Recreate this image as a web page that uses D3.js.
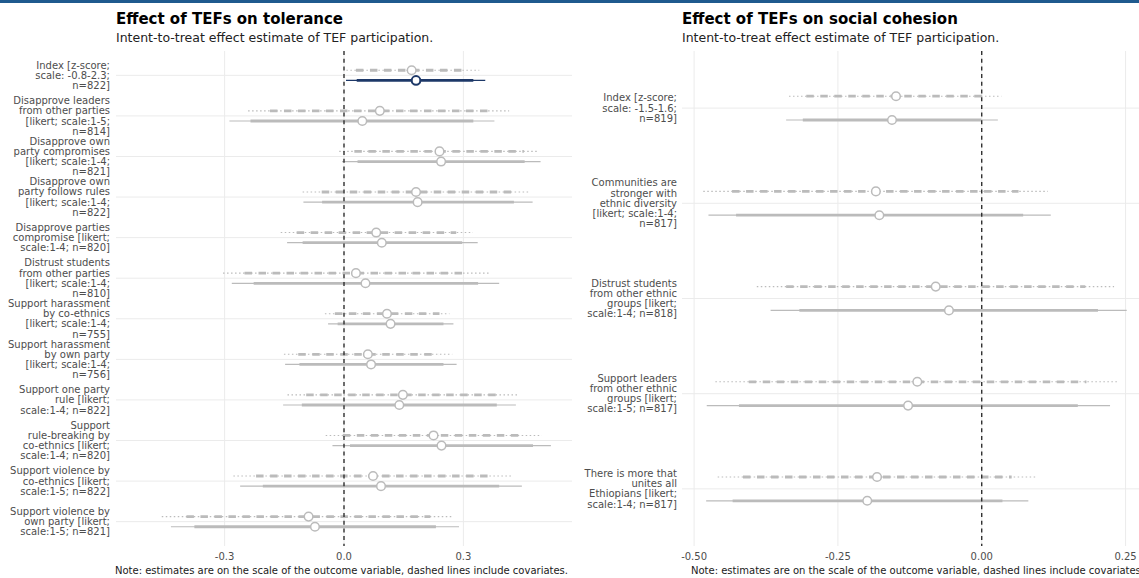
<!DOCTYPE html>
<html>
<head>
<meta charset="utf-8">
<script src="https://cdn.jsdelivr.net/npm/d3@7"></script>
<style>
  html, body { margin: 0; padding: 0; background: #fff; }
  svg { display: block; font-family: "DejaVu Sans", sans-serif; }
</style>
</head>
<body>
<svg id="chart" width="1139" height="578"></svg>
<script>
// ---- Tolerance outcomes ----
const tolCategories = [
  "Index [z-score;\nscale: -0.8-2.3;\nn=822]",
  "Disapprove leaders\nfrom other parties\n[likert; scale:1-5;\nn=814]",
  "Disapprove own\nparty compromises\n[likert; scale:1-4;\nn=821]",
  "Disapprove own\nparty follows rules\n[likert; scale:1-4;\nn=822]",
  "Disapprove parties\ncompromise [likert;\nscale:1-4; n=820]",
  "Distrust students\nfrom other parties\n[likert; scale:1-4;\nn=810]",
  "Support harassment\nby co-ethnics\n[likert; scale:1-4;\nn=755]",
  "Support harassment\nby own party\n[likert; scale:1-4;\nn=756]",
  "Support one party\nrule [likert;\nscale:1-4; n=822]",
  "Support\nrule-breaking by\nco-ethnics [likert;\nscale:1-4; n=820]",
  "Support violence by\nco-ethnics [likert;\nscale:1-5; n=822]",
  "Support violence by\nown party [likert;\nscale:1-5; n=821]"
];
// estimates without covariates (solid lines)
const tolEst     = [0.181, 0.046, 0.244, 0.185, 0.095, 0.054, 0.117, 0.068, 0.139, 0.245, 0.093, -0.073];
const tolLo95    = [0.005, -0.288, -0.005, -0.102, -0.143, -0.282, -0.040, -0.148, -0.153, -0.029, -0.261, -0.435];
const tolHi95    = [0.355, 0.378, 0.494, 0.474, 0.336, 0.390, 0.275, 0.283, 0.432, 0.520, 0.447, 0.289];
const tolLo90    = [0.032, -0.235, 0.034, -0.055, -0.104, -0.227, -0.016, -0.112, -0.106, 0.015, -0.204, -0.376];
const tolHi90    = [0.325, 0.325, 0.454, 0.427, 0.297, 0.337, 0.250, 0.250, 0.384, 0.475, 0.390, 0.231];
// estimates with covariates (dashed lines)
const tolEstCov  = [0.170, 0.090, 0.240, 0.181, 0.081, 0.030, 0.108, 0.060, 0.148, 0.225, 0.073, -0.089];
const tolLo95Cov = [0.006, -0.241, -0.012, -0.104, -0.159, -0.304, -0.048, -0.151, -0.142, -0.046, -0.278, -0.458];
const tolHi95Cov = [0.340, 0.415, 0.487, 0.468, 0.324, 0.365, 0.265, 0.272, 0.441, 0.497, 0.424, 0.275];
const tolLo90Cov = [0.030, -0.186, 0.026, -0.056, -0.119, -0.250, -0.023, -0.115, -0.095, -0.003, -0.221, -0.396];
const tolHi90Cov = [0.310, 0.367, 0.452, 0.420, 0.282, 0.312, 0.240, 0.237, 0.392, 0.452, 0.366, 0.217];
const tolTicks   = [-0.3, 0.0, 0.3];

// ---- Social cohesion outcomes ----
const cohCategories = [
  "Index [z-score;\nscale: -1.5-1.6;\nn=819]",
  "Communities are\nstronger with\nethnic diversity\n[likert; scale:1-4;\nn=817]",
  "Distrust students\nfrom other ethnic\ngroups [likert;\nscale:1-4; n=818]",
  "Support leaders\nfrom other ethnic\ngroups [likert;\nscale:1-5; n=817]",
  "There is more that\nunites all\nEthiopians [likert;\nscale:1-4; n=817]"
];
const cohEst     = [-0.156, -0.178, -0.057, -0.128, -0.199];
const cohLo95    = [-0.340, -0.475, -0.367, -0.478, -0.479];
const cohHi95    = [0.028, 0.120, 0.252, 0.223, 0.081];
const cohLo90    = [-0.311, -0.427, -0.317, -0.422, -0.433];
const cohHi90    = [-0.001, 0.072, 0.202, 0.167, 0.036];
const cohEstCov  = [-0.149, -0.184, -0.080, -0.112, -0.182];
const cohLo95Cov = [-0.335, -0.484, -0.391, -0.463, -0.459];
const cohHi95Cov = [0.034, 0.115, 0.230, 0.239, 0.096];
const cohLo90Cov = [-0.305, -0.434, -0.340, -0.405, -0.415];
const cohHi90Cov = [0.005, 0.064, 0.180, 0.182, 0.052];
const cohTicks   = [-0.50, -0.25, 0.00, 0.25];

const subtitleText = "Intent-to-treat effect estimate of TEF participation.";
const noteText = "Note: estimates are on the scale of the outcome variable, dashed lines include covariates.";

const GREY = "#bbbbbb";
const NAVY = "#1d3868";

// tick labels use a plain hyphen for negatives
const locale = d3.formatLocale({ decimal: ".", thousands: ",", grouping: [3], currency: ["", ""], minus: "-" });

const svg = d3.select("#chart");

// header rule
svg.append("rect").attr("x", 0).attr("y", 0).attr("width", 1139).attr("height", 3).attr("fill", "#1f5a8e");

function panel(opts) {
  const top = 51, bottom = 546;
  const g = svg.append("g");
  const x = d3.scaleLinear().domain(opts.xDomain).range([opts.left, opts.right]);
  const y = d3.scalePoint().domain(opts.categories).range([top, bottom]).padding(0.6);
  const off = y.step() * 0.125;

  // titles
  g.append("text").attr("x", opts.left).attr("y", 24)
    .attr("font-size", 15).attr("font-weight", "bold").attr("fill", "#000").text(opts.title);
  g.append("text").attr("x", opts.left).attr("y", 41.5)
    .attr("font-size", 12.5).attr("fill", "#222").text(subtitleText);

  // grid
  g.append("g").selectAll("line").data(opts.ticks).join("line")
    .attr("x1", d => x(d)).attr("x2", d => x(d)).attr("y1", top).attr("y2", bottom)
    .attr("stroke", "#ebebeb").attr("stroke-width", 1);
  g.append("g").selectAll("line").data(opts.categories).join("line")
    .attr("x1", opts.left).attr("x2", opts.right).attr("y1", d => y(d)).attr("y2", d => y(d))
    .attr("stroke", "#ebebeb").attr("stroke-width", 1);

  // y labels
  const lab = g.append("g").selectAll("text").data(opts.categories).join("text")
    .attr("text-anchor", "end").attr("font-size", 10).attr("fill", "#4d4d4d")
    .attr("x", opts.labelX);
  lab.each(function(d) {
    const lines = d.split("\n");
    const lh = 10.2;
    const y0 = y(d) - (lines.length - 1) * lh / 2;
    d3.select(this).selectAll("tspan").data(lines).join("tspan")
      .attr("x", opts.labelX).attr("y", (l, i) => y0 + i * lh).attr("dy", "0.35em").text(l => l);
  });

  // x tick labels
  g.append("g").selectAll("text").data(opts.ticks).join("text")
    .attr("x", d => x(d)).attr("y", 559.5).attr("text-anchor", "middle")
    .attr("font-size", 10).attr("fill", "#4d4d4d").text(d => opts.fmt(d));

  // note
  g.append("text").attr("x", opts.right - 4).attr("y", 574).attr("text-anchor", "end")
    .attr("font-size", 10).attr("fill", "#1a1a1a").text(noteText);

  const rows = opts.categories.map((c, i) => ({
    c, i,
    est: opts.est[i], lo95: opts.lo95[i], hi95: opts.hi95[i], lo90: opts.lo90[i], hi90: opts.hi90[i],
    estC: opts.estC[i], lo95C: opts.lo95C[i], hi95C: opts.hi95C[i], lo90C: opts.lo90C[i], hi90C: opts.hi90C[i],
    col: (opts.highlight === i) ? NAVY : GREY
  }));

  const marks = g.append("g");
  // with covariates: dotted 95% and dashed 90%
  marks.selectAll("line.c95").data(rows).join("line").attr("class", "c95")
    .attr("x1", d => x(d.lo95C)).attr("x2", d => x(d.hi95C))
    .attr("y1", d => y(d.c) - off).attr("y2", d => y(d.c) - off)
    .attr("stroke", GREY).attr("stroke-width", 1.1).attr("stroke-dasharray", "1.5,2.5");
  marks.selectAll("line.c90").data(rows).join("line").attr("class", "c90")
    .attr("x1", d => x(d.lo90C)).attr("x2", d => x(d.hi90C))
    .attr("y1", d => y(d.c) - off).attr("y2", d => y(d.c) - off)
    .attr("stroke", GREY).attr("stroke-width", 2.8).attr("stroke-dasharray", "7.5,6.5");
  // without covariates: solid
  marks.selectAll("line.s95").data(rows).join("line").attr("class", "s95")
    .attr("x1", d => x(d.lo95)).attr("x2", d => x(d.hi95))
    .attr("y1", d => y(d.c) + off).attr("y2", d => y(d.c) + off)
    .attr("stroke", d => d.col).attr("stroke-width", 1.2);
  marks.selectAll("line.s90").data(rows).join("line").attr("class", "s90")
    .attr("x1", d => x(d.lo90)).attr("x2", d => x(d.hi90))
    .attr("y1", d => y(d.c) + off).attr("y2", d => y(d.c) + off)
    .attr("stroke", d => d.col).attr("stroke-width", 2.8);

  // zero reference
  g.append("line").attr("x1", x(0)).attr("x2", x(0)).attr("y1", top).attr("y2", bottom)
    .attr("stroke", "#222").attr("stroke-width", 1.3).attr("stroke-dasharray", "4,3.7");

  // points
  const pts = g.append("g");
  pts.selectAll("circle.pc").data(rows).join("circle").attr("class", "pc")
    .attr("cx", d => x(d.estC)).attr("cy", d => y(d.c) - off).attr("r", 4.3)
    .attr("fill", "#fff").attr("stroke", GREY).attr("stroke-width", 1.5);
  pts.selectAll("circle.ps").data(rows).join("circle").attr("class", "ps")
    .attr("cx", d => x(d.est)).attr("cy", d => y(d.c) + off).attr("r", 4.3)
    .attr("fill", "#fff").attr("stroke", d => d.col)
    .attr("stroke-width", d => d.col === NAVY ? 2 : 1.5);
}

panel({
  title: "Effect of TEFs on tolerance",
  left: 116, right: 572, labelX: 110,
  xDomain: [-0.573, 0.573],
  categories: tolCategories, ticks: tolTicks, fmt: locale.format(".1f"),
  est: tolEst, lo95: tolLo95, hi95: tolHi95, lo90: tolLo90, hi90: tolHi90,
  estC: tolEstCov, lo95C: tolLo95Cov, hi95C: tolHi95Cov, lo90C: tolLo90Cov, hi90C: tolHi90Cov,
  highlight: 0
});

panel({
  title: "Effect of TEFs on social cohesion",
  left: 682, right: 1148, labelX: 677,
  xDomain: [-0.521, 0.289],
  categories: cohCategories, ticks: cohTicks, fmt: locale.format(".2f"),
  est: cohEst, lo95: cohLo95, hi95: cohHi95, lo90: cohLo90, hi90: cohHi90,
  estC: cohEstCov, lo95C: cohLo95Cov, hi95C: cohHi95Cov, lo90C: cohLo90Cov, hi90C: cohHi90Cov,
  highlight: -1
});
</script>
</body>
</html>
